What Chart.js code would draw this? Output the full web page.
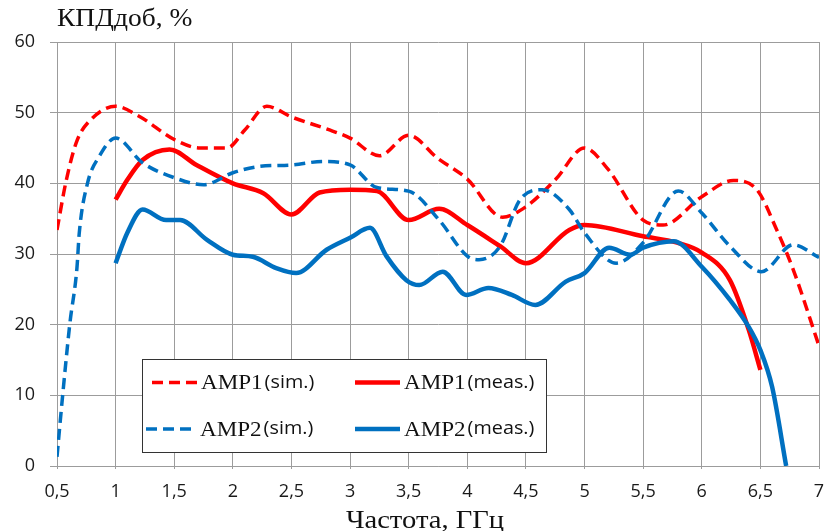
<!DOCTYPE html>
<html lang="ru">
<head>
<meta charset="utf-8">
<title>КПДдоб</title>
<script src="https://cdn.jsdelivr.net/npm/chart.js@4.4.1/dist/chart.umd.min.js"></script>
<style>
    html, body { margin: 0; padding: 0; background: #ffffff; }
    #wrap { position: relative; width: 827px; height: 531px; }
</style>
</head>
<body>
<div id="wrap"><canvas id="effChart"></canvas></div>
<script>
// Frequency, GHz  /  added efficiency, %
const amp1SimFreq = [0.5, 0.58, 0.67, 0.8, 1.0, 1.2, 1.5, 1.72, 1.95, 2.1, 2.29, 2.5, 2.85, 3.0, 3.25, 3.5, 3.75, 4.0, 4.3, 4.5, 4.75, 5.0, 5.2, 5.5, 5.67, 6.0, 6.27, 6.47, 6.64, 6.78, 7.0];
const amp1SimEff  = [33.4, 40.5, 46.0, 49.2, 50.9, 49.5, 46.2, 45.0, 45.0, 47.5, 50.9, 49.4, 47.4, 46.4, 43.9, 46.8, 43.5, 40.6, 35.2, 36.7, 40.5, 45.0, 42.0, 34.8, 34.1, 38.1, 40.4, 39.1, 33.4, 27.8, 17.0];

const amp1MeasFreq = [1.0, 1.1, 1.23, 1.46, 1.69, 2.0, 2.26, 2.5, 2.74, 3.0, 3.23, 3.5, 3.76, 4.0, 4.28, 4.5, 4.87, 5.0, 5.5, 5.79, 6.0, 6.24, 6.4, 6.5];
const amp1MeasEff  = [37.7, 40.5, 43.3, 44.8, 42.6, 40.0, 38.6, 35.6, 38.7, 39.1, 38.9, 34.8, 36.4, 34.1, 31.1, 28.7, 33.4, 34.1, 32.5, 31.6, 30.2, 26.3, 19.3, 13.6];

const amp2SimFreq = [0.5, 0.55, 0.61, 0.67, 0.69, 0.76, 0.86, 1.0, 1.23, 1.5, 1.75, 2.0, 2.23, 2.5, 2.77, 3.0, 3.23, 3.5, 3.76, 4.0, 4.1, 4.28, 4.45, 4.64, 4.87, 5.0, 5.27, 5.5, 5.8, 6.0, 6.24, 6.51, 6.78, 7.0];
const amp2SimEff  = [1.3, 10.3, 20.2, 28.0, 33.0, 40.0, 43.8, 46.4, 42.9, 40.8, 39.8, 41.5, 42.4, 42.6, 43.1, 42.6, 39.4, 38.9, 34.8, 29.7, 29.2, 31.1, 37.7, 39.1, 36.3, 33.0, 28.7, 31.6, 38.9, 35.8, 31.1, 27.5, 31.3, 29.5];

const amp2MeasFreq = [1.0, 1.1, 1.23, 1.43, 1.55, 1.78, 2.0, 2.17, 2.37, 2.54, 2.8, 3.0, 3.17, 3.31, 3.48, 3.59, 3.79, 3.99, 4.18, 4.38, 4.58, 4.84, 5.0, 5.21, 5.39, 5.5, 5.76, 6.0, 6.24, 6.4, 6.5, 6.6, 6.72];
const amp2MeasEff  = [28.7, 33.0, 36.3, 34.8, 34.8, 32.0, 29.9, 29.6, 28.0, 27.3, 30.6, 32.3, 33.7, 29.7, 26.3, 25.6, 27.5, 24.2, 25.2, 24.2, 22.8, 26.1, 27.3, 30.9, 29.9, 30.9, 31.8, 28.2, 23.5, 19.7, 16.4, 11.2, 0.0];

const xTicks = [0.5, 1, 1.5, 2, 2.5, 3, 3.5, 4, 4.5, 5, 5.5, 6, 6.5, 7];
const xTickLabels = ['0,5', '1', '1,5', '2', '2,5', '3', '3,5', '4', '4,5', '5', '5,5', '6', '6,5', '7'];
const yTicks = [0, 10, 20, 30, 40, 50, 60];
const yTickLabels = ['0', '10', '20', '30', '40', '50', '60'];

const seriesNames = ['AMP1', 'AMP1', 'AMP2', 'AMP2'];
const seriesTags = ['(sim.)', '(meas.)', '(sim.)', '(meas.)'];
const yTitle = 'КПДдоб, %';
const xTitle = 'Частота, ГГц';

const RED = '#ff0000';
const BLUE = '#0070c0';
const GRID = '#9c9c9c';
const DASH = [11, 6];
const STRETCH = 1.1;   // the source figure is slightly wide-scaled

function toPoints(xs, ys) {
    return xs.map((x, i) => ({ x: x, y: ys[i] }));
}

function makeSeries(idx, xs, ys, color, dashed, order) {
    return {
        label: seriesNames[idx] + ' ' + seriesTags[idx],
        data: toPoints(xs, ys),
        borderColor: color,
        backgroundColor: color,
        borderWidth: dashed ? 3.5 : 4.5,
        borderDash: dashed ? DASH : [],
        cubicInterpolationMode: 'monotone',
        pointRadius: 0,
        fill: false,
        order: order
    };
}

// draw text squeezed / stretched horizontally, returns drawn width
function wideText(ctx, text, x, y, align) {
    const w = ctx.measureText(text).width * STRETCH;
    ctx.save();
    ctx.translate(x, y);
    ctx.scale(STRETCH, 1);
    ctx.textAlign = align;
    ctx.fillText(text, 0, 0);
    ctx.restore();
    return w;
}

// legend slot positions (line start / end, row centre)
const legendBox = { x: 142.5, y: 359.5, w: 404, h: 93 };
const legendSlots = [
    { x0: 152, x1: 197, y: 382.5 },
    { x0: 355, x1: 400, y: 382.5 },
    { x0: 146, x1: 196, y: 429 },
    { x0: 355, x1: 400, y: 429 }
];

const decorPlugin = {
    id: 'paperDecor',
    afterDraw(chart) {
        const ctx = chart.ctx;
        ctx.save();

        // axis captions
        ctx.fillStyle = '#111111';
        ctx.textBaseline = 'alphabetic';
        ctx.font = '25px "Liberation Serif", serif';
        wideText(ctx, yTitle, 57, 26, 'left');
        ctx.font = '26px "Liberation Serif", serif';
        wideText(ctx, xTitle, 425, 528, 'center');

        // legend
        ctx.fillStyle = '#ffffff';
        ctx.fillRect(legendBox.x, legendBox.y, legendBox.w, legendBox.h);
        ctx.strokeStyle = '#333333';
        ctx.lineWidth = 1;
        ctx.strokeRect(legendBox.x, legendBox.y, legendBox.w, legendBox.h);

        chart.data.datasets.forEach((ds, i) => {
            const slot = legendSlots[i];
            ctx.beginPath();
            ctx.strokeStyle = ds.borderColor;
            ctx.lineWidth = ds.borderWidth;
            ctx.setLineDash(ds.borderDash);
            ctx.moveTo(slot.x0, slot.y);
            ctx.lineTo(slot.x1, slot.y);
            ctx.stroke();
            ctx.setLineDash([]);

            ctx.fillStyle = '#111111';
            ctx.textBaseline = 'middle';
            ctx.font = '21px "Liberation Serif", serif';
            const nx = slot.x1 + 4;
            const w = wideText(ctx, seriesNames[i], nx, slot.y + 1, 'left');
            ctx.font = '18px "Open Sans", sans-serif';
            wideText(ctx, seriesTags[i], nx + w + 2, slot.y, 'left');
        });

        ctx.restore();
    }
};

const tickFont = { family: '"Open Sans", sans-serif', size: 18 };

new Chart(document.getElementById('effChart'), {
    type: 'line',
    data: {
        datasets: [
            makeSeries(0, amp1SimFreq, amp1SimEff, RED, true, 3),
            makeSeries(1, amp1MeasFreq, amp1MeasEff, RED, false, 2),
            makeSeries(2, amp2SimFreq, amp2SimEff, BLUE, true, 1),
            makeSeries(3, amp2MeasFreq, amp2MeasEff, BLUE, false, 0)
        ]
    },
    options: {
        responsive: true,
        maintainAspectRatio: false,
        animation: false,
        layout: { padding: { left: 0, right: 8, top: 42, bottom: 0 } },
        plugins: {
            legend: { display: false },
            tooltip: { enabled: false }
        },
        scales: {
            x: {
                type: 'linear',
                min: 0.5,
                max: 7,
                afterBuildTicks: scale => { scale.ticks = xTicks.map(v => ({ value: v })); },
                afterFit: scale => {
                    scale.height = 65;
                    scale.paddingLeft = 0;
                    scale.paddingRight = 0;
                },
                ticks: {
                    callback: (v, i) => xTickLabels[i],
                    font: tickFont,
                    color: '#1a1a1a',
                    padding: 12,
                    maxRotation: 0,
                    autoSkip: false
                },
                grid: { color: GRID, lineWidth: 1, tickLength: 3 },
                border: { color: GRID }
            },
            y: {
                type: 'linear',
                min: 0,
                max: 60,
                afterBuildTicks: scale => { scale.ticks = yTicks.map(v => ({ value: v })); },
                afterFit: scale => {
                    scale.width = 57;
                    scale.paddingTop = 0;
                    scale.paddingBottom = 0;
                },
                ticks: {
                    callback: (v, i) => yTickLabels[i],
                    font: tickFont,
                    color: '#1a1a1a',
                    padding: 15
                },
                grid: { color: GRID, lineWidth: 1, tickLength: 7 },
                border: { color: GRID }
            }
        }
    },
    plugins: [decorPlugin]
});
</script>
</body>
</html>
